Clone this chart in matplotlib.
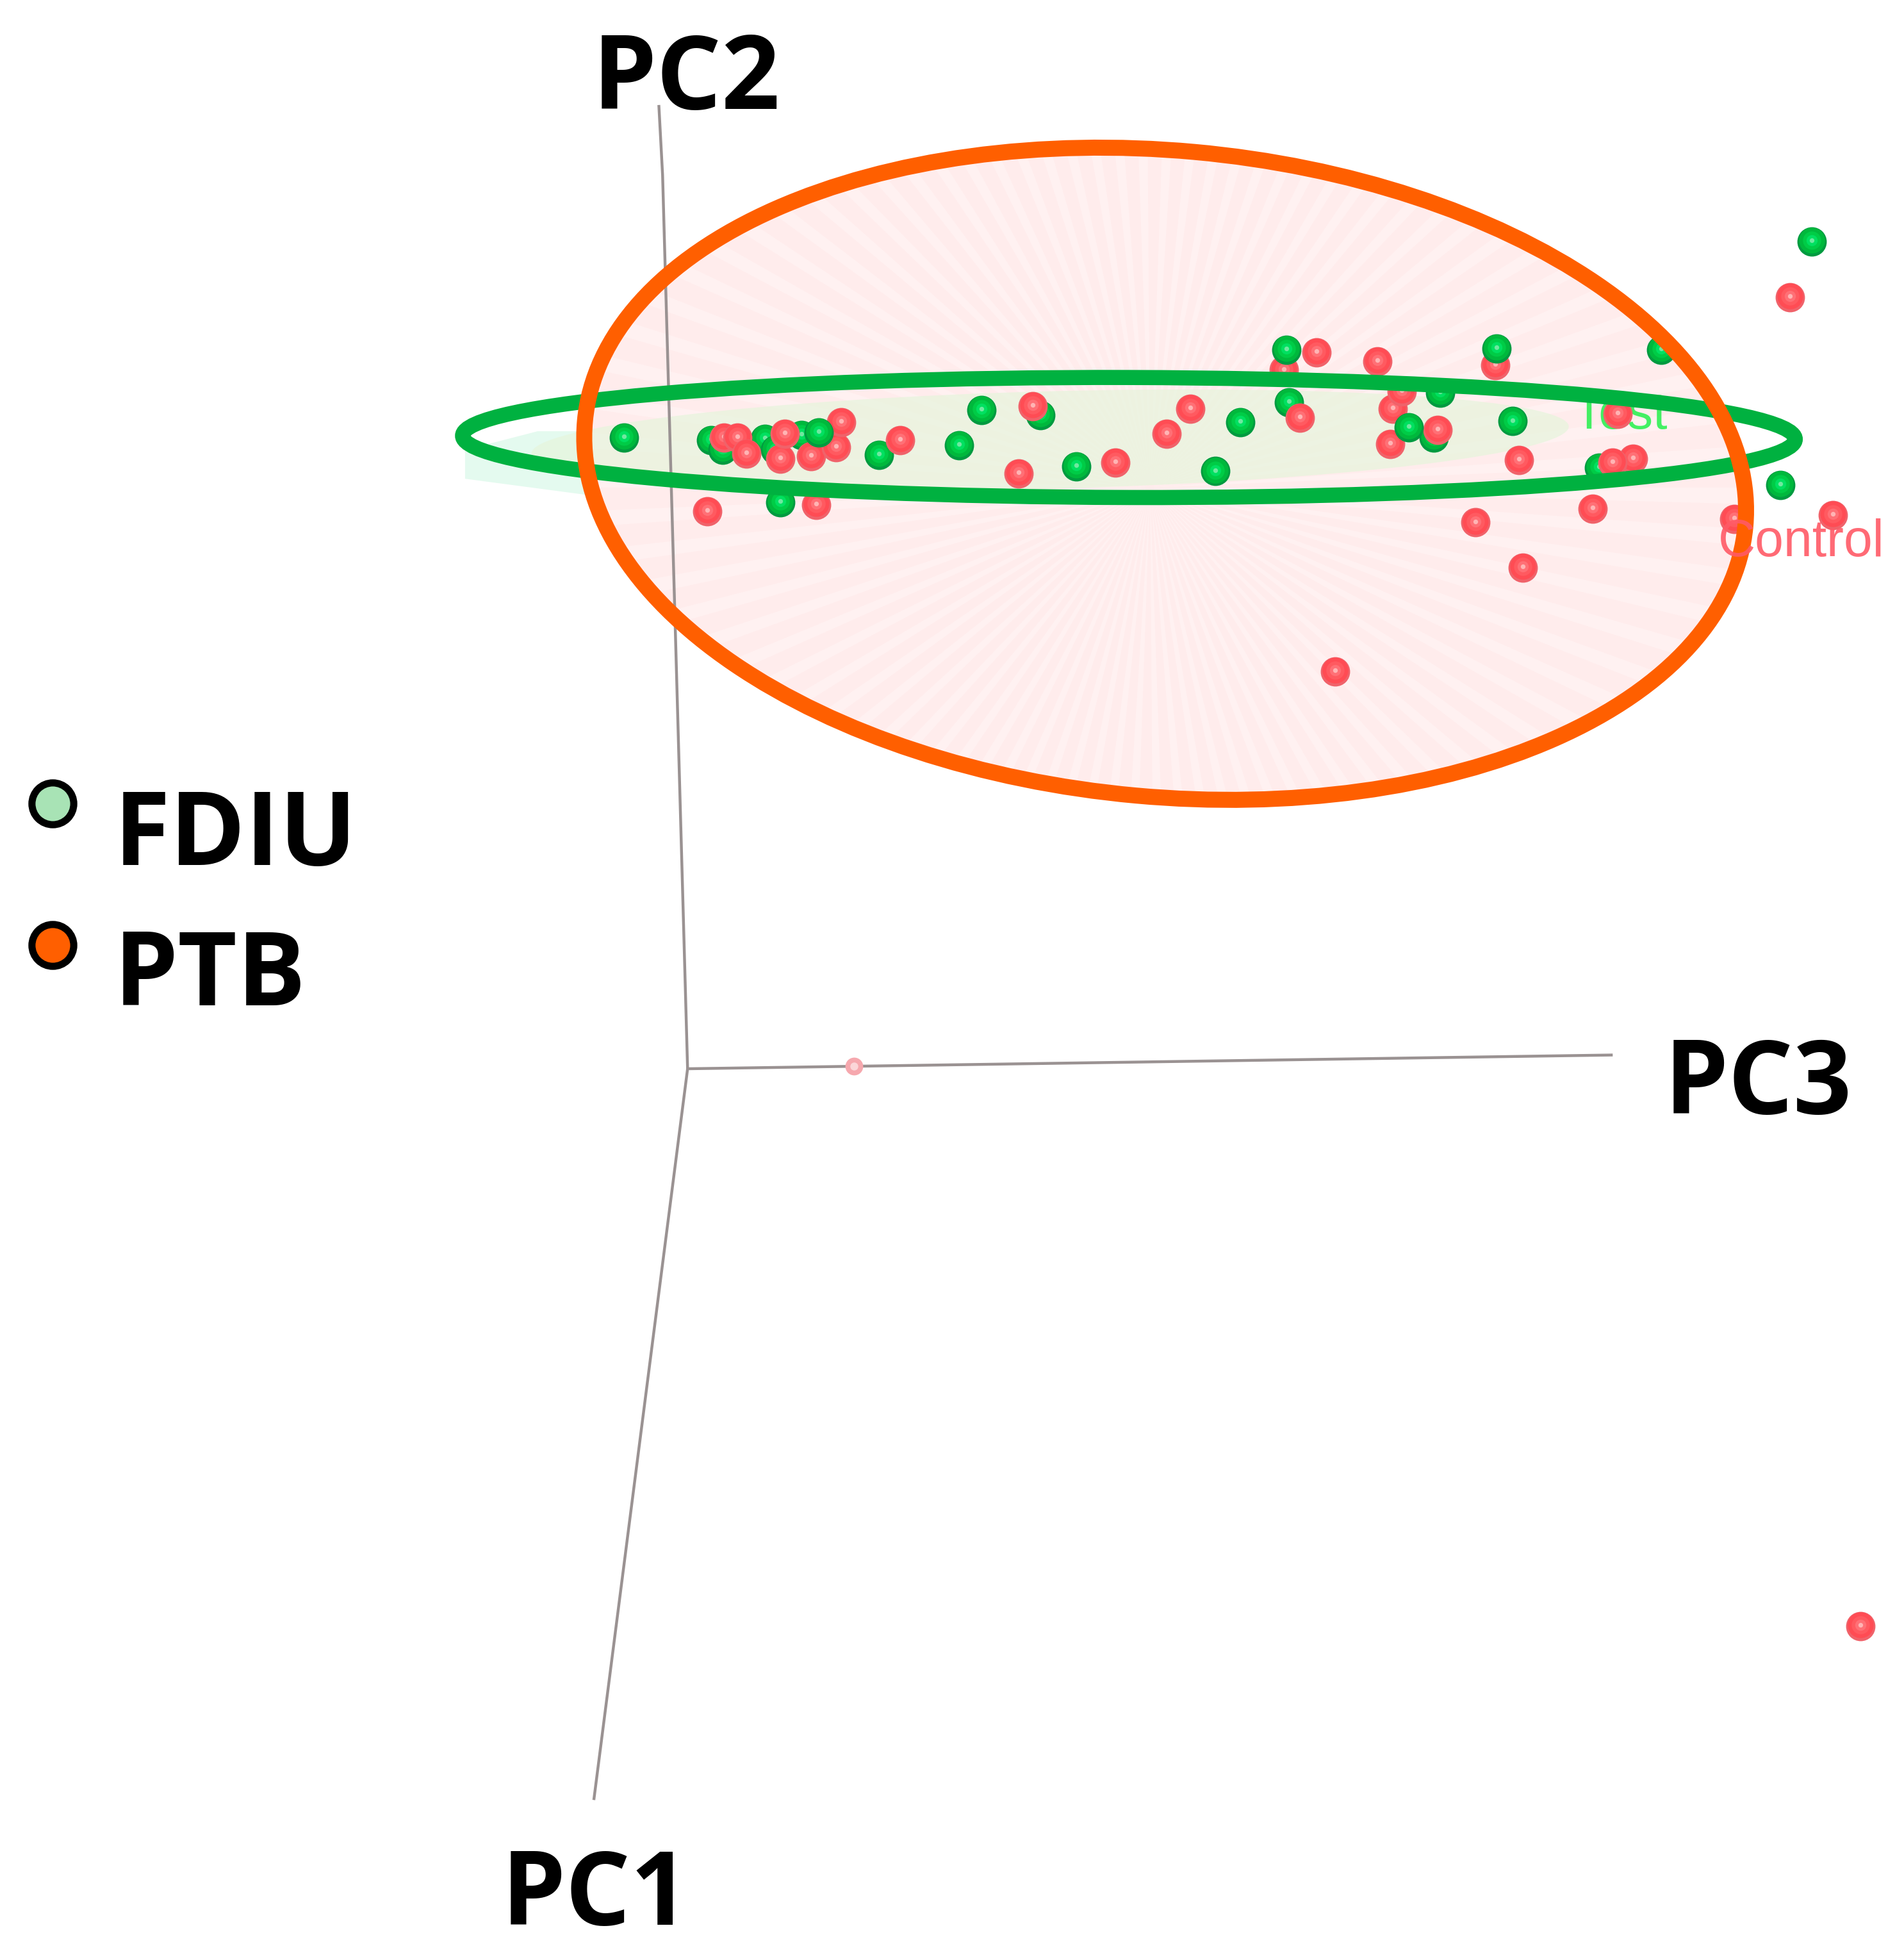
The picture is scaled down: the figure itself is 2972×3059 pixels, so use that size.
import numpy as np
import matplotlib
matplotlib.use("Agg")
import matplotlib.pyplot as plt
from matplotlib.patches import Ellipse

# PCA scores, as (horizontal, vertical) picture positions
green_back_x = [499,569,578,612,620,641,624,703,767,785,832,861,972,992,1031,1152,1147,1210,1279,1329,1449,1424]
green_back_y = [350,352,360,351,360,348,402,364,356,328,332,373,377,338,322,314,350,337,374,280,193,388]
red_x = [566,579,590,597,624,628,649,669,673,653,720,815,826,892,933,952,1040,1027,1053,1102,1114,1121,1112,1150,1196,1215,1294,1306,1290,1180,1274,1218,1068,1387,1466,1432,1488]
red_y = [409,350,350,363,367,347,365,358,338,404,352,379,325,370,347,327,334,296,282,289,327,313,355,344,292,368,331,367,370,418,407,454,537,415,412,238,1301]
green_front_x = [655,1029,1197,1127]
green_front_y = [346,280,279,342]
faint_x = [683]
faint_y = [853]

axis_pc2_x = [527,530,550]
axis_pc2_y = [84,140,855]
axis_pc1_x = [550,475]
axis_pc1_y = [855,1440]
axis_pc3_x = [550,1290]
axis_pc3_y = [855,844]

haze_x = [372,372,470,545,545,430]
haze_y = [360,383,396,398,345,345]

axis_labels = ["PC2", "PC3", "PC1"]
legend_labels = ["FDIU", "PTB"]
group_labels = ["Test", "Control"]

fig = plt.figure(figsize=(29.72, 30.59), dpi=100, facecolor="white")
ax = fig.add_axes([0, 0, 1, 1])
ax.set_xlim(0, 1523)
ax.set_ylim(1568, 0)
ax.axis("off")

ORANGE = "#ff5f00"
GREEN = "#00b140"

# pale haze of the green group at the left tip
ax.fill(haze_x, haze_y, color="#e4faef", lw=0, zorder=0.5)

# pink ellipse with faint rays
pink = Ellipse((932, 379), 932, 517, angle=5.2, fc="#ffecec", ec="none", zorder=1)
ax.add_patch(pink)
for a in np.arange(0, 360, 4.0):
    t = np.radians([a, a + 1.6])
    w = ax.fill([920, 920 + 700*np.cos(t[0]), 920 + 700*np.cos(t[1])],
                [390, 390 + 700*np.sin(t[0]), 390 + 700*np.sin(t[1])],
                color="#fff1f1", lw=0, zorder=1.1)[0]
    w.set_clip_path(pink)

# green translucent wedge
ax.add_patch(Ellipse((840, 352), 830, 78, angle=-1.5, fc="#e6f5dc", ec="none", alpha=0.7, zorder=1.5))

# axes
for xs, ys in [(axis_pc2_x, axis_pc2_y), (axis_pc1_x, axis_pc1_y), (axis_pc3_x, axis_pc3_y)]:
    ax.plot(xs, ys, color="#9a9292", lw=3.2, zorder=2, solid_capstyle="butt")

# group labels under the points
ax.text(1296, 343, group_labels[0], color="#22f04a", fontsize=58, family="Liberation Sans",
        ha="center", va="baseline", zorder=2.5, alpha=0.85)

D = 33.0
def balls(xs, ys, shades, z):
    xs = np.asarray(xs, float)
    ys = np.asarray(ys, float)
    fracs = [1.0, 0.88, 0.62, 0.38, 0.16]
    for i in range(len(xs)):
        zz = z + i * 0.001
        for k, f in enumerate(fracs):
            off = 0 if k == 0 else 1
            ax.scatter(xs[i], ys[i]-off, s=(D*f)**2, c=shades[k], lw=0, zorder=zz+k*1e-4)

GS = ["#009a40", "#00b83c", "#00cc46", "#00e060", "#70e8a0"]
RS = ["#f0626a", "#ff4c54", "#ff5a60", "#ff7076", "#ffb4b4"]
balls(green_back_x, green_back_y, GS, 3)
balls(red_x, red_y, RS, 3.2)
balls(green_front_x, green_front_y, GS, 3.4)
ax.scatter(faint_x, faint_y, s=20**2, c="#f6a8ae", lw=0, zorder=3)
ax.scatter(faint_x, faint_y, s=9**2, c="#fbd6d8", lw=0, zorder=3.01)

# outlines
ax.add_patch(Ellipse((903, 350), 1066, 96, angle=0.15, fc="none", ec=GREEN, lw=17, zorder=4))
ax.add_patch(Ellipse((932, 379), 932, 517, angle=5.2, fc="none", ec=ORANGE, lw=18, zorder=4.1))

ax.text(1441, 445, group_labels[1], color="#ff5a66", fontsize=58, family="Liberation Sans",
        ha="center", va="baseline", zorder=5, alpha=0.9)

# big labels
BF = dict(family="Open Sans", fontweight="bold", color="black", fontsize=115, zorder=6, va="baseline", ha="left")
ax.text(474, 87, axis_labels[0], **BF)
ax.text(1331, 891, axis_labels[1], **BF)
ax.text(401, 1540, axis_labels[2], **BF)
ax.text(91, 692, legend_labels[0], **BF)
ax.text(91, 804, legend_labels[1], **BF)

# legend
ax.scatter([42], [643], s=47**2, c="#a8e3b5", edgecolors="black", lw=8, zorder=6)
ax.scatter([42], [756], s=47**2, c=ORANGE, edgecolors="black", lw=8, zorder=6)

fig.savefig("out.png", dpi=100)
